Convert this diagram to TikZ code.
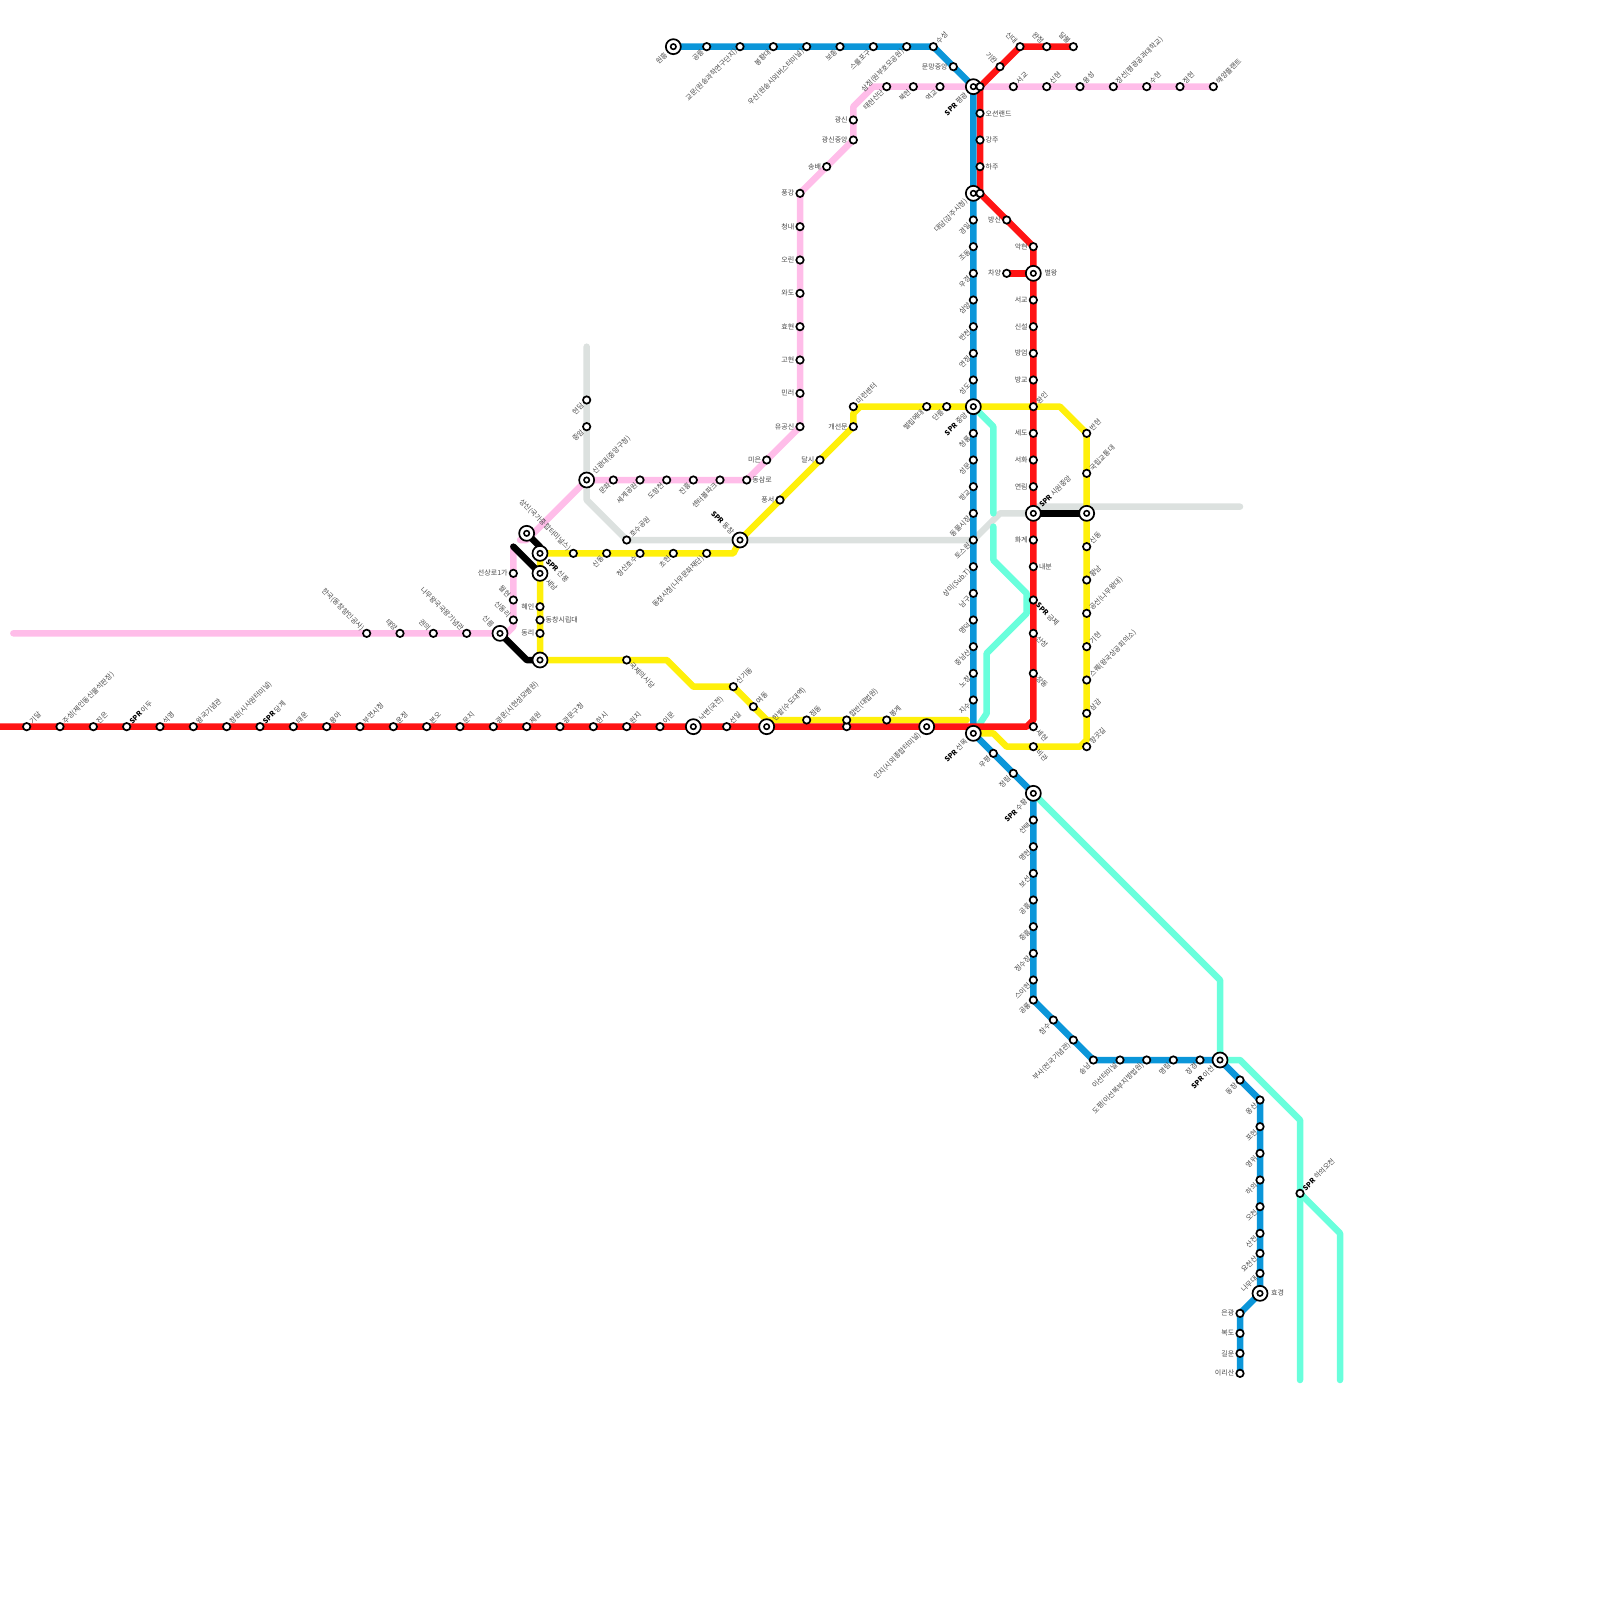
\documentclass[tikz,border=0pt]{standalone}
\usepackage{fontspec}
\setmainfont{Noto Sans CJK KR}
\usetikzlibrary{backgrounds}
\definecolor{rtblue}{HTML}{0B96D9}
\definecolor{rtred}{HTML}{FF1414}
\definecolor{rtpink}{HTML}{FFBDE9}
\definecolor{rtyellow}{HTML}{FFF00A}
\definecolor{rtcyan}{HTML}{69FFDC}
\definecolor{rtgray}{HTML}{DCE1DF}
\definecolor{labgray}{HTML}{484848}
\tikzset{
  route/.style={line width=6.5pt,line cap=round,line join=round},
  stn/.style={circle,draw=black,fill=white,line width=1.7pt,minimum size=7.4pt,inner sep=0pt},
  hubstn/.style={circle,draw=black,fill=white,line width=1.7pt,minimum size=15pt,inner sep=0pt,
    path picture={\draw[line width=1.6pt] (path picture bounding box.center) circle (2.7pt);}},
  lab/.style={font=\fontsize{7}{8}\selectfont,text=labgray,inner sep=0pt},
  lne/.style={lab,rotate=45,anchor=west,xshift=#1},lne/.default=5.5pt,
  lsw/.style={lab,rotate=45,anchor=east,xshift=-#1},lsw/.default=5.5pt,
  lnw/.style={lab,rotate=-45,anchor=east,xshift=-#1},lnw/.default=5.5pt,
  lse/.style={lab,rotate=-45,anchor=west,xshift=#1},lse/.default=5.5pt,
  lw/.style={lab,anchor=east,xshift=-#1},lw/.default=5.5pt,
  le/.style={lab,anchor=west,xshift=#1},le/.default=5.5pt,
}
\newcommand{\spr}{{\color{black}\textbf{SPR}} }
\newcommand{\sta}[5]{\node[stn] (#1) at (#2,#3) {}; \node[#4] (#1t) at (#1) {#5};}
\newcommand{\hub}[5]{\node[hubstn] (#1) at (#2,#3) {}; \node[#4] (#1t) at (#1) {#5};}
\begin{document}
\begin{tikzpicture}[x=6.6667pt,y=-6.6667pt]
\path[use as bounding box] (0,0) rectangle (240,240);
% transfer hubs
\hub{hwon}{101}{7}{lsw=10pt}{원흥}
\hub{hpg}{146}{13}{lsw=10pt}{\spr 평광}
\hub{hdd}{146}{29}{lsw=10pt}{대담(강주시청)}
\hub{hjung}{146}{61}{lsw=10pt}{\spr 중앙}
\hub{hsm}{146}{110}{lsw=10pt}{\spr 선목}
\hub{hsh}{155}{119}{lsw=10pt}{\spr 수황}
\hub{hys}{183}{159}{lsw=10pt}{\spr 이선}
\hub{hhk}{189}{194}{le=11pt}{효경}
\hub{hbw}{155}{41}{le=11pt}{별왕}
\hub{hsw}{155}{77}{lne=10pt}{\spr 시원중앙}
\node[hubstn] (hye) at (163,77) {};
\hub{hsg}{88}{72}{lne=10pt}{신광대(중앙구청)}
\node[hubstn] (hss) at (79,80) {};
\hub{hsp}{81}{83}{lse=10pt}{\spr 신풍}
\hub{hsn}{81}{86}{lse=10pt}{세남}
\hub{hsr}{75}{95}{lnw=10pt}{신릉}
\node[hubstn] (hdr) at (81,99) {};
\hub{hdc}{111}{81}{lnw=10pt}{\spr 동창}
\hub{hnb}{104}{109}{lne=10pt}{낙변(국전)}
\hub{hhb}{115}{109}{lne=10pt}{한밭(수도대역)}
\hub{hij}{139}{109}{lsw=10pt}{인지(시외종합터미널)}
% blue line
\foreach \x/\txt in {106/공릉,111/교문(원송과학연구단지),116/봉황대,121/우산(원송시외버스터미널),126/보종,131/스룰포구,136/삼정(원부호모공원)}{\sta{tb\x}{\x}{7}{lsw}{\txt}}
\sta{tb140}{140}{7}{lne}{수성}
\sta{tb143}{143}{10}{lw}{문망중앙}
\foreach \y/\txt in {33/경일,37/조동,41/우경,45/삼양,49/반천,53/연정,57/성도,65/청룡,69/성문,73/방교,77/동물시장,81/토스원,85/상미(Sub.T),89/남구,93/명덕,97/중남산,101/노창,105/지수}{\sta{vb\y}{146}{\y}{lsw}{\txt}}
\sta{db149}{149}{113}{lsw}{우평}
\sta{db152}{152}{116}{lsw}{정림}
\foreach \y/\txt in {123/선택,127/명현,131/보선,135/공흥,139/중흥,143/정수장,147/스이현,150/공룡}{\sta{sb\y}{155}{\y}{lsw}{\txt}}
\sta{db158}{158}{153}{lsw}{참수}
\sta{db161}{161}{156}{lsw}{부사(전국기념관)}
\foreach \x/\txt in {164/송남,168/이선터미널,172/도평(이선복부지방법원),176/명림,180/장경}{\sta{lb\x}{\x}{159}{lsw}{\txt}}
\sta{db186}{186}{162}{lsw}{동장}
\foreach \y/\txt in {165/옹산,169/포현,173/영위,177/하의,181/오천,185/산전,188/요천산,191/나무대}{\sta{rb\y}{189}{\y}{lsw}{\txt}}
\foreach \y/\txt in {197/은광,200/복도,203/길운,206/이리산}{\sta{eb\y}{186}{\y}{lw}{\txt}}
% pink line
\foreach \x/\txt in {133/태현신단,137/북현,141/역교}{\sta{tp\x}{\x}{13}{lsw}{\txt}}
\foreach \x/\txt in {152/서교,157/신현,162/용성,167/장선(평광공과대학교),172/수현,177/정현,182/해양플랜트}{\sta{tp\x}{\x}{13}{lne}{\txt}}
\sta{gp18}{128}{18}{lw}{광신}
\sta{gp21}{128}{21}{lw}{광신중앙}
\sta{gp25}{124}{25}{lw}{송배}
\foreach \y/\txt in {29/풍강,34/청내,39/오린,44/와도,49/효현,54/고현,59/민러,64/유공신}{\sta{vp\y}{120}{\y}{lw}{\txt}}
\sta{gp69}{115}{69}{lw}{미은}
\sta{mp112}{112}{72}{le}{동삼로}
\foreach \x/\txt in {92/문화,96/세계공원,100/도항천,104/진흥,108/센터볼파크}{\sta{mp\x}{\x}{72}{lsw}{\txt}}
\sta{lp86}{77}{86}{lw}{선상로1가}
\sta{lp90}{77}{90}{lnw}{월현}
\sta{lp93}{77}{93}{lnw}{신동리}
\foreach \x/\txt in {55/한국(동창향인공사),60/태양,65/권의,70/나무왕국국왕기념관}{\sta{wp\x}{\x}{95}{lnw}{\txt}}
% red line
\node[stn] (tr13) at (147,13) {};
\sta{tr17}{147}{17}{le}{오션랜드}
\sta{tr21}{147}{21}{le}{강주}
\sta{tr25}{147}{25}{le}{하주}
\node[stn] (tr29) at (147,29) {};
\sta{ur150}{150}{10}{lnw}{기완}
\sta{ur153}{153}{7}{lnw}{신대}
\sta{ur157}{157}{7}{lnw}{완정}
\sta{ur161}{161}{7}{lnw}{달불}
\sta{dr33}{151}{33}{lw}{방신}
\sta{br41}{151}{41}{lw}{차양}
\foreach \y/\txt in {37/악현,45/서교,49/신설,53/방엄,57/방교,65/세도,69/서화,73/연림,81/화계}{\sta{vr\y}{155}{\y}{lw}{\txt}}
\sta{vr61}{155}{61}{lne}{환인}
\sta{vr85}{155}{85}{le}{내분}
\sta{vr90}{155}{90}{lse}{\spr 금제}
\sta{vr95}{155}{95}{lse}{산성}
\sta{vr101}{155}{101}{lse}{장동}
\sta{vr109}{155}{109}{lse}{세현}
\foreach \x/\txt in {4/기달,9/주성(제인동신물석판장),14/진은,19/\spr 이두,24/석영,29/왕국기념관,34/창원(시사원터미널),39/\spr 당계,44/태운,49/용아,54/부연시청,59/운정,64/본오,69/문지,74/광운(시현성모병원),79/제원,84/광문구청,89/한시,94/원지,99/이문,109/선일}{\sta{rr\x}{\x}{109}{lne}{\txt}}
\node[stn] (rr127) at (127,109) {};
% yellow line
\sta{yy86}{86}{83}{lnw}{상신(국가종합터미널스)}
\foreach \x/\txt in {91/신동,96/청신호수,101/초현,106/동창시청(나무문화재단)}{\sta{yy\x}{\x}{83}{lsw}{\txt}}
\sta{dy75}{117}{75}{lw}{풍서}
\sta{dy69}{123}{69}{lw}{달시}
\sta{dy64}{128}{64}{lw}{개선문}
\sta{dy61}{128}{61}{lne}{미런센터}
\sta{ty139}{139}{61}{lsw}{벌립에대}
\sta{ty142}{142}{61}{lsw}{단릉}
\foreach \y/\txt in {65/반현,71/국립교통대,82/신동,87/황남,92/공선(나무왕대),97/기현,102/스퀘(왕국상공회의소),107/삼감,112/향곳길}{\sta{ry\y}{163}{\y}{lne}{\txt}}
\sta{by112}{155}{112}{lse}{비관}
\sta{ly91}{81}{91}{lw}{혜인}
\sta{ly93}{81}{93}{le}{동창시립대}
\sta{ly95}{81}{95}{lw}{동리}
\sta{sy94}{94}{99}{lse}{국제의시당}
\sta{sy110}{110}{103}{lne}{신기동}
\sta{sy113}{113}{106}{lne}{여동}
\foreach \x/\txt in {121/점동,127/합반(대법원),133/봉계}{\sta{sy\x}{\x}{108}{lne}{\txt}}
% gray and cyan stations
\sta{gg60}{88}{60}{lsw}{현담}
\sta{gg64}{88}{64}{lsw}{중암}
\sta{gg94}{94}{81}{lne}{호수공원}
\sta{cc195}{195}{179}{lne}{\spr 하의오천}
% bends and free ends
\coordinate (gtop) at (88,52);
\coordinate (gb1) at (88,75);
\coordinate (gb2) at (150,77);
\coordinate (gb3) at (154,77);
\coordinate (gb4) at (155,76);
\coordinate (gend) at (186,76);
\coordinate (cb1) at (149,64);
\coordinate (cb2) at (149,77);
\coordinate (cb3) at (149,79);
\coordinate (cb4) at (149,84);
\coordinate (cb5) at (154,89);
\coordinate (cb6) at (154,92);
\coordinate (cb7) at (148,98);
\coordinate (cb8) at (148,107);
\coordinate (cb9) at (183,147);
\coordinate (cb10) at (186,159);
\coordinate (cb11) at (195,168);
\coordinate (cend1) at (195,207);
\coordinate (cb12) at (201,185);
\coordinate (cend2) at (201,207);
\coordinate (pb1) at (131,13);
\coordinate (pb2) at (128,16);
\coordinate (pb3) at (79,81);
\coordinate (pb4) at (78,81);
\coordinate (pb5) at (77,82);
\coordinate (pb6) at (77,94);
\coordinate (pb7) at (76,95);
\coordinate (pend) at (2,95);
\coordinate (yb1) at (110,83);
\coordinate (yb2) at (128,62);
\coordinate (yb3) at (129,61);
\coordinate (yb4) at (159,61);
\coordinate (yb5) at (163,111);
\coordinate (yb6) at (162,112);
\coordinate (yb7) at (151,112);
\coordinate (yb8) at (149,110);
\coordinate (yb9) at (100,99);
\coordinate (yb10) at (104,103);
\coordinate (yb11) at (115,108);
\coordinate (yend) at (145,108);
\coordinate (rleft) at (0,109);
\coordinate (rb1) at (154,109);
\coordinate (rb2) at (155,108);
\coordinate (kb1) at (79,99);
\coordinate (kb2) at (81,82);
\begin{scope}[on background layer]
\draw[route,rtgray] (gtop) -- (gb1) -- (gg94.center) -- (vb81.center) -- (gb2) -- (gb3) -- (gb4) -- (gend);
\draw[route,rtcyan] (hjung.center) -- (cb1) -- (cb2);
\draw[route,rtcyan] (cb3) -- (cb4) -- (cb5) -- (cb6) -- (cb7) -- (cb8) -- (hsm.center);
\draw[route,rtcyan] (hsh.center) -- (cb9) -- (hys.center) -- (cb10) -- (cb11) -- (cend1);
\draw[route,rtcyan] (cc195.center) -- (cb12) -- (cend2);
\draw[route,rtpink] (tp182.center) -- (pb1) -- (pb2) -- (gp21.center) -- (vp29.center) -- (vp64.center) -- (mp112.center) -- (hsg.center) -- (pb3) -- (pb4);
\draw[route,rtpink] (pb5) -- (pb6) -- (pb7) -- (pend);
\draw[route,rtyellow] (hsp.center) -- (yb1) -- (hdc.center) -- (dy64.center) -- (yb2) -- (yb3) -- (yb4) -- (ry65.center) -- (yb5) -- (yb6) -- (yb7) -- (yb8) -- (hsm.center);
\draw[route,rtyellow] (hsp.center) -- (hdr.center) -- (yb9) -- (yb10) -- (sy110.center) -- (yb11) -- (yend);
\draw[route,rtblue] (hwon.center) -- (tb140.center) -- (hpg.center) -- (hsm.center) -- (hsh.center) -- (sb150.center) -- (lb164.center) -- (hys.center) -- (rb165.center) -- (hhk.center) -- (eb197.center) -- (eb206.center);
\draw[route,rtred] (ur161.center) -- (ur153.center) -- (tr13.center) -- (tr29.center) -- (vr37.center) -- (rb2) -- (rb1) -- (rleft);
\draw[route,rtred] (br41.center) -- (hbw.center);
\draw[route,black] (hsw.center) -- (hye.center);
\draw[route,black] (hsr.center) -- (kb1) -- (hdr.center);
\draw[route,black] (hss.center) -- (kb2) -- (hsp.center);
\draw[route,black] (pb5) -- (hsn.center);
\end{scope}
\end{tikzpicture}
\end{document}
